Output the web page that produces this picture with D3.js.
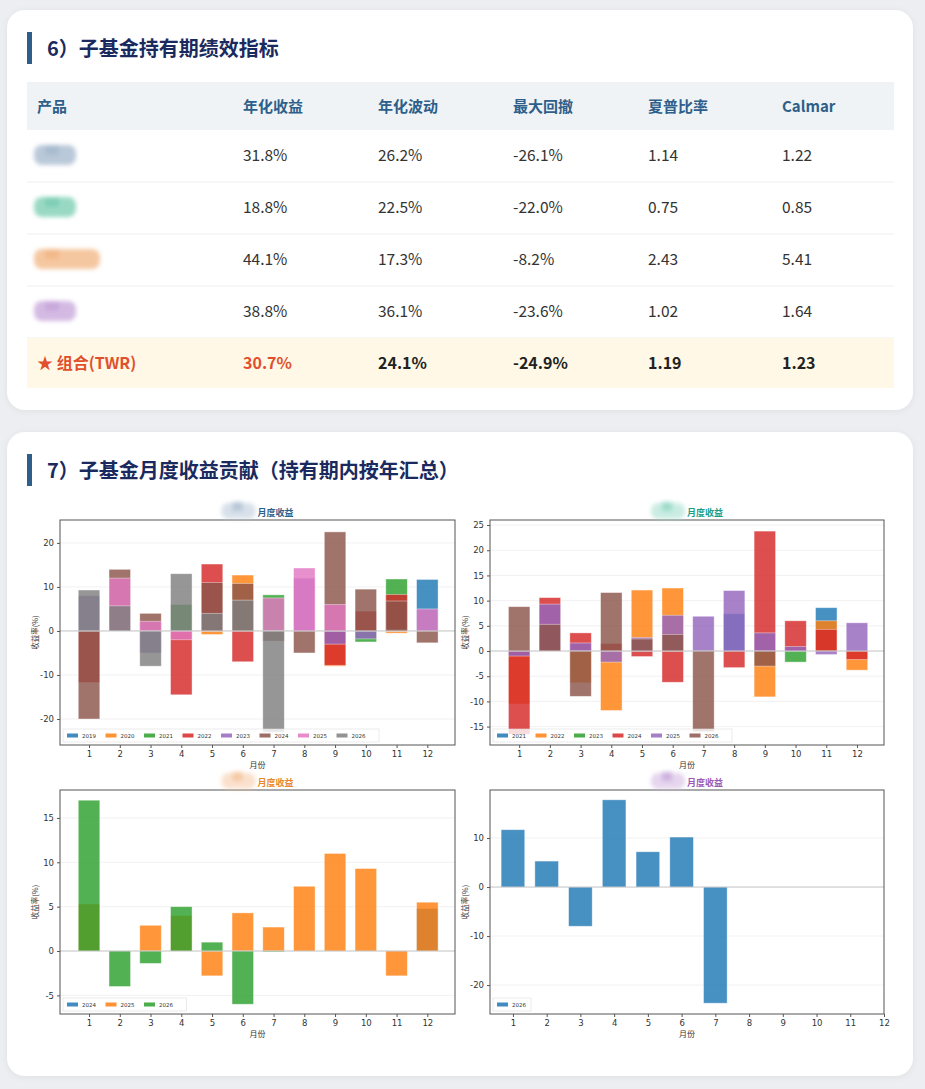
<!DOCTYPE html>
<html><head><meta charset="utf-8">
<script src="https://cdn.jsdelivr.net/npm/d3@7"></script>
<style>body{margin:0;background:#eceef1;font-family:"Noto Sans CJK SC","Noto Sans",sans-serif}</style>
</head><body><svg id="c" width="925" height="1089"></svg>
<script>
// ---- table data ----
const columns = ["产品","年化收益","年化波动","最大回撤","夏普比率","Calmar"];
const blurColors = ["#a9bccf","#7fcfb5","#f2b98a","#c9a9dc"];
const annRet = ["31.8%","18.8%","44.1%","38.8%"];
const annVol = ["26.2%","22.5%","17.3%","36.1%"];
const maxDD = ["-26.1%","-22.0%","-8.2%","-23.6%"];
const sharpe = ["1.14","0.75","2.43","1.02"];
const calmar = ["1.22","0.85","5.41","1.64"];
const totalRow = ["★ 组合(TWR)","30.7%","24.1%","-24.9%","1.19","1.23"];

// ---- chart data (month 1..12, null = no bar) ----
const months = [1,2,3,4,5,6,7,8,9,10,11,12];
const c1Years = ["2019","2020","2021","2022","2023","2024","2025","2026"];
const c1Vals = [
 [null,null,null,null,null,null,null,null,null,null,null,11.7],
 [null,null,null,null,-0.8,12.7,null,null,-8,null,-0.5,null],
 [null,null,null,6,null,null,8.2,null,null,-2.5,11.8,null],
 [-11.7,null,null,-14.5,15.2,-7,null,null,-7.8,4.5,8.3,null],
 [8,null,-5,null,null,null,null,12,-3,-1.8,0.3,null],
 [-20,14,4,null,11,10.8,-2.3,-5,22.5,9.5,6.8,-2.7],
 [null,12,2.2,-2,null,null,7.5,14.3,6,null,null,5],
 [9.3,5.7,-8,13,4,7,-23,null,null,null,null,null]];
const c2Years = ["2021","2022","2023","2024","2025","2026"];
const c2Vals = [
 [null,null,null,null,null,null,null,7.4,null,null,8.6,null],
 [-10.5,null,-6.3,-11.8,12.1,12.5,null,null,-9.1,null,6,-3.8],
 [null,null,null,null,null,null,null,null,null,-2.2,null,null],
 [-16.5,10.6,3.6,1.5,-1.1,-6.2,null,-3.3,23.8,6,4.3,-1.7],
 [-1,9.3,1.6,-2.2,2.7,7.1,6.9,12,3.6,0.9,-0.7,5.6],
 [8.8,5.3,-9,11.6,2.4,3.3,-16,null,-3,null,null,null]];
const c3Years = ["2024","2025","2026"];
const c3Vals = [
 [null,null,null,null,null,null,null,null,null,null,null,4.8],
 [5.3,null,2.9,4,-2.8,4.3,2.7,7.3,11,9.3,-2.8,5.5],
 [17,-4,-1.4,5,1,-6,-0.1,null,null,null,null,null]];
const c4Years = ["2026"];
const c4Vals = [[11.7,5.3,-8,17.8,7.2,10.2,-23.7,null,null,null,null,null]];
const palette = ["#1f77b4","#ff7f0e","#2ca02c","#d62728","#9467bd","#8c564b","#e377c2","#7f7f7f"];

const svg = d3.select("#c");
const defs = svg.append("defs");
defs.append("filter").attr("id","bl").attr("x","-50%").attr("y","-50%").attr("width","200%").attr("height","200%")
 .append("feGaussianBlur").attr("stdDeviation",2.2);
defs.append("filter").attr("id","sh").append("feDropShadow").attr("dx",0).attr("dy",1).attr("stdDeviation",3).attr("flood-color","#000").attr("flood-opacity",0.06);

function card(y,h,title){
  svg.append("rect").attr("x",7).attr("y",y).attr("width",906).attr("height",h).attr("rx",18).attr("fill","#fff").attr("filter","url(#sh)");
  svg.append("rect").attr("x",27).attr("y",y+22).attr("width",5).attr("height",32).attr("fill","#2e5f8a");
  svg.append("text").attr("x",47).attr("y",y+46).attr("font-size",20).attr("font-weight",700).attr("fill","#1a2a5e").text(title);
}
card(10,400,"6）子基金持有期绩效指标");
card(432,644,"7）子基金月度收益贡献（持有期内按年汇总）");

// table
const colX = [37,243,378,513,648,782];
svg.append("rect").attr("x",27).attr("y",82).attr("width",867).attr("height",48).attr("fill","#eff3f6");
columns.forEach((c,i)=>svg.append("text").attr("x",colX[i]).attr("y",112).attr("font-size",15).attr("font-weight",700).attr("fill","#2e5f8a").text(c));
const rows = d3.range(4).map(i=>[annRet[i],annVol[i],maxDD[i],sharpe[i],calmar[i]]);
rows.forEach((r,i)=>{
  const y0=130+i*52;
  svg.append("line").attr("x1",27).attr("x2",894).attr("y1",y0+52).attr("y2",y0+52).attr("stroke","#eceff2");
  const g=svg.append("g").attr("filter","url(#bl)");
  g.append("rect").attr("x",34).attr("y",y0+15).attr("width",i==2?66:42).attr("height",20).attr("rx",8).attr("fill",blurColors[i]).attr("opacity",0.8);
  g.append("rect").attr("x",45).attr("y",y0+15).attr("width",14).attr("height",10).attr("fill",blurColors[i]);
  r.forEach((v,j)=>svg.append("text").attr("x",colX[j+1]).attr("y",y0+31).attr("font-size",15.5).attr("fill","#333").text(v));
});
svg.append("rect").attr("x",27).attr("y",338).attr("width",867).attr("height",50).attr("fill","#fff8e6");
totalRow.forEach((v,j)=>svg.append("text").attr("x",colX[j]).attr("y",369).attr("font-size",16).attr("font-weight",700)
  .attr("fill",j<2?"#e0502c":"#222").text(v));

// charts
function chart(o){
  const {x0,x1,y0,y1,xd,yd,years,vals,colors,titleColor,blurColor,yticks,legW}=o;
  const x=d3.scaleLinear().domain(xd).range([x0,x1]);
  const y=d3.scaleLinear().domain(yd).range([y1,y0]);
  const g=svg.append("g");
  yticks.forEach(t=>g.append("line").attr("x1",x0).attr("x2",x1).attr("y1",y(t)).attr("y2",y(t)).attr("stroke","#eee").attr("stroke-width",0.8));
  const bw=x(0.7)-x(0);
  years.forEach((yr,k)=>{
    g.selectAll(null).data(months.map((m,i)=>({m,v:vals[k][i]})).filter(d=>d.v!=null)).enter().append("rect")
     .attr("x",d=>x(d.m)-bw/2).attr("width",bw)
     .attr("y",d=>y(Math.max(0,d.v))).attr("height",d=>Math.abs(y(d.v)-y(0)))
     .attr("fill",colors[k]).attr("fill-opacity",0.82).attr("stroke","#fff").attr("stroke-opacity",0.5).attr("stroke-width",0.8);
  });
  g.append("line").attr("x1",x0).attr("x2",x1).attr("y1",y(0)).attr("y2",y(0)).attr("stroke","#bbb").attr("stroke-width",0.8);
  g.append("rect").attr("x",x0).attr("y",y0).attr("width",x1-x0).attr("height",y1-y0).attr("fill","none").attr("stroke","#555").attr("stroke-width",1);
  const ax=g.append("g").attr("transform",`translate(0,${y1})`).call(d3.axisBottom(x).tickValues(months).tickFormat(d3.format("d")).tickSize(3).tickSizeOuter(0));
  const ay=g.append("g").attr("transform",`translate(${x0},0)`).call(d3.axisLeft(y).tickValues(yticks).tickSize(3).tickSizeOuter(0));
  [ax,ay].forEach(a=>{a.select(".domain").remove();a.selectAll("text").attr("font-size",8.5).attr("fill","#333").attr("font-family","DejaVu Sans");a.selectAll("line").attr("stroke","#555");});
  ay.selectAll("text").text(d=>d<0?"-"+Math.abs(d):d);
  g.append("text").attr("x",(x0+x1)/2).attr("y",y1+23).attr("text-anchor","middle").attr("font-size",8).attr("fill","#333").text("月份");
  g.append("text").attr("transform",`translate(${x0-22},${(y0+y1)/2}) rotate(-90)`).attr("text-anchor","middle").attr("font-size",7.5).attr("fill","#333").text("收益率(%)");
  // title
  const cx=(x0+x1)/2;
  const tb=g.append("g").attr("filter","url(#bl)");
  tb.append("rect").attr("x",cx-36).attr("y",y0-17).attr("width",34).attr("height",16).attr("rx",7).attr("fill",blurColor).attr("opacity",0.55);
  tb.append("rect").attr("x",cx-25).attr("y",y0-18).attr("width",10).attr("height",9).attr("fill",blurColor);
  g.append("text").attr("x",cx).attr("y",y0-4).attr("font-size",9).attr("font-weight",700).attr("fill",titleColor).text("月度收益");
  // legend
  const lg=g.append("g");
  lg.append("rect").attr("x",x0+3).attr("y",y1-16).attr("width",legW*years.length+8).attr("height",13).attr("fill","#fff").attr("fill-opacity",0.8).attr("stroke","#ddd").attr("stroke-width",0.6);
  years.forEach((yr,k)=>{
    const lx=x0+7+k*legW;
    lg.append("rect").attr("x",lx).attr("y",y1-11.5).attr("width",11).attr("height",4).attr("fill",colors[k]).attr("fill-opacity",0.85);
    lg.append("text").attr("x",lx+15).attr("y",y1-7).attr("font-size",5.5).attr("fill","#333").attr("font-family","DejaVu Sans").text(yr);
  });
}
chart({x0:60,x1:455,y0:520,y1:745,xd:[0.056,12.9],yd:[-25.9,25.2],years:c1Years,vals:c1Vals,colors:palette,titleColor:"#2e5f8a",blurColor:"#b8c8d8",yticks:[-20,-10,0,10,20],legW:38.5});
chart({x0:490,x1:884,y0:520,y1:745,xd:[0.05,12.88],yd:[-18.65,26],years:c2Years,vals:c2Vals,colors:palette.slice(0,4).concat(["#9467bd","#8c564b"]),titleColor:"#1a9e8a",blurColor:"#9fdccb",yticks:[-15,-10,-5,0,5,10,15,20,25],legW:38.5});
chart({x0:60,x1:455,y0:790,y1:1014,xd:[0.056,12.9],yd:[-7.1,18.15],years:c3Years,vals:c3Vals,colors:palette,titleColor:"#e8892a",blurColor:"#f5c9a5",yticks:[-5,0,5,10,15],legW:38.5});
chart({x0:490,x1:884,y0:790,y1:1014,xd:[0.32,12],yd:[-25.9,19.8],years:c4Years,vals:c4Vals,colors:palette,titleColor:"#9b59b6",blurColor:"#cfb2e0",yticks:[-20,-10,0,10],legW:30});
</script></body></html>
